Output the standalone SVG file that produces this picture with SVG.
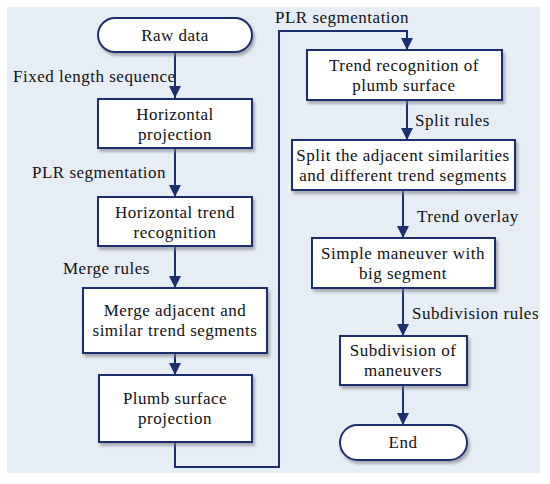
<svg xmlns="http://www.w3.org/2000/svg" width="550" height="484" viewBox="0 0 550 484">
<defs>
<marker id="ah" markerWidth="12" markerHeight="12" viewBox="0 0 12 12" refX="12" refY="6" orient="auto" markerUnits="userSpaceOnUse">
<path d="M0,0 L12,6 L0,12 Z" fill="#1b2f6e"/>
</marker>
<filter id="sh" x="-10%" y="-10%" width="130%" height="140%">
<feDropShadow dx="2" dy="3" stdDeviation="1.5" flood-color="#7a7f88" flood-opacity="0.6"/>
</filter>
</defs>
<style>
.box{fill:#ffffff;stroke:#1b2f6e;stroke-width:2;filter:url(#sh)}
text{font-family:'Liberation Serif','DejaVu Serif','Times New Roman',serif;font-size:17px;letter-spacing:0.5px;fill:#111}
.c{text-anchor:middle}
.ln{fill:none;stroke:#1b2f6e;stroke-width:2}
</style>
<rect x="0" y="0" width="550" height="484" fill="#ffffff"/>
<rect x="7" y="7" width="533" height="466" fill="#e7edf4"/>
<g id="connectors">
<path class="ln" d="M175,52 V98" marker-end="url(#ah)"/>
<path class="ln" d="M175,148 V197" marker-end="url(#ah)"/>
<path class="ln" d="M175,246 V288" marker-end="url(#ah)"/>
<path class="ln" d="M175,353 V375" marker-end="url(#ah)"/>
<path class="ln" d="M175,442 V467 H279 V31 H407 V50" marker-end="url(#ah)"/>
<path class="ln" d="M407,100 V140" marker-end="url(#ah)"/>
<path class="ln" d="M403,190 V238" marker-end="url(#ah)"/>
<path class="ln" d="M403,288 V336" marker-end="url(#ah)"/>
<path class="ln" d="M403,385 V425" marker-end="url(#ah)"/>
<text x="13" y="82">Fixed length sequence</text>
<text x="32" y="178">PLR segmentation</text>
<text x="63" y="274">Merge rules</text>
<text x="275" y="23">PLR segmentation</text>
<text x="415" y="126">Split rules</text>
<text x="417" y="222">Trend overlay</text>
<text x="412" y="319">Subdivision rules</text>
</g>
<g id="raw">
<rect class="box" x="98" y="18" width="154" height="34" rx="17"/>
<text class="c" x="175" y="41">Raw data</text>
</g>
<g id="hproj">
<rect class="box" x="98" y="99" width="154" height="49"/>
<text class="c" x="175" y="120">Horizontal</text>
<text class="c" x="175" y="140">projection</text>
</g>
<g id="htrend">
<rect class="box" x="98" y="197" width="154" height="49"/>
<text class="c" x="175" y="218">Horizontal trend</text>
<text class="c" x="175" y="238">recognition</text>
</g>
<g id="merge">
<rect class="box" x="83" y="288" width="184" height="65"/>
<text class="c" x="175" y="316">Merge adjacent and</text>
<text class="c" x="175" y="336">similar trend segments</text>
</g>
<g id="plumb">
<rect class="box" x="99" y="375" width="153" height="67"/>
<text class="c" x="175" y="404">Plumb surface</text>
<text class="c" x="175" y="424">projection</text>
</g>
<g id="trendrec">
<rect class="box" x="307" y="50" width="195" height="50"/>
<text class="c" x="404" y="71">Trend recognition of</text>
<text class="c" x="404" y="91">plumb surface</text>
</g>
<g id="split">
<rect class="box" x="292" y="140" width="223" height="50"/>
<text class="c" x="403" y="161">Split the adjacent similarities</text>
<text class="c" x="403" y="181">and different trend segments</text>
</g>
<g id="simple">
<rect class="box" x="312" y="238" width="183" height="50"/>
<text class="c" x="403" y="259">Simple maneuver with</text>
<text class="c" x="403" y="279">big segment</text>
</g>
<g id="subdiv">
<rect class="box" x="340" y="336" width="127" height="49"/>
<text class="c" x="403" y="356">Subdivision of</text>
<text class="c" x="403" y="376">maneuvers</text>
</g>
<g id="end">
<rect class="box" x="340" y="425" width="127" height="35" rx="17.5"/>
<text class="c" x="403" y="448">End</text>
</g>
</svg>
